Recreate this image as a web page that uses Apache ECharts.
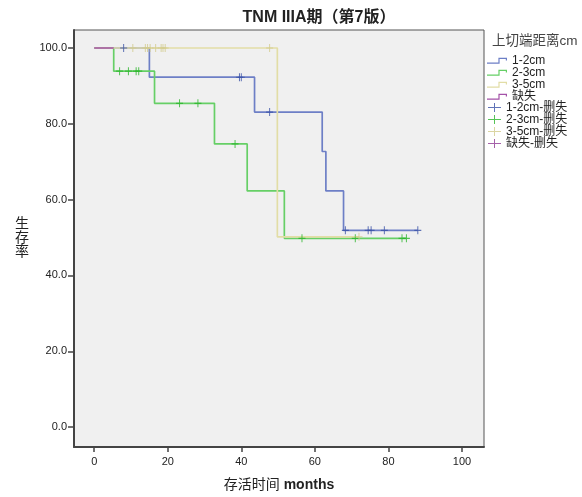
<!DOCTYPE html>
<html>
<head>
<meta charset="utf-8">
<script src="https://cdn.jsdelivr.net/npm/echarts@6/dist/echarts.min.js"></script>
<style>
html,body{margin:0;padding:0;background:#fff;}
#main{width:582px;height:497px;}
</style>
</head>
<body>
<div id="main"></div>
<script>
const xTicks = [0, 20, 40, 60, 80, 100];
const yTicks = [0, 20, 40, 60, 80, 100];

const groupNames = ['1-2cm', '2-3cm', '3-5cm', '缺失'];
const censorNames = ['1-2cm-删失', '2-3cm-删失', '3-5cm-删失', '缺失-删失'];

// survival step points [months, survival %]
const curve12 = [[0,100],[15.0,92.3],[43.6,83.1],[62.0,72.7],[63.0,62.3],[67.8,51.9],[88.0,51.9]];
const curve23 = [[0,100],[5.3,93.9],[16.4,85.4],[32.7,74.7],[41.6,62.3],[51.7,49.8],[84.9,49.8]];
const curve35 = [[0,100],[49.8,50.2],[72.0,50.2]];
const curveMiss = [[0,100],[5.3,100]];

// censored observations
const cens12 = [[8.0,100],[39.5,92.3],[40.0,92.3],[47.7,83.1],[68.3,51.9],[74.5,51.9],[75.3,51.9],[78.9,51.9],[88.0,51.9]];
const cens23 = [[6.9,93.9],[9.3,93.9],[11.4,93.9],[12.1,93.9],[23.2,85.4],[28.2,85.4],[38.3,74.7],[56.5,49.8],[71.0,49.8],[83.7,49.8],[84.9,49.8]];
const cens35 = [[10.5,100],[13.9,100],[14.5,100],[15.2,100],[16.7,100],[18.2,100],[18.7,100],[19.3,100],[47.7,100],[72.0,50.2]];
const censMiss = [];

const lineColors = ['#6d7fc6', '#66cf66', '#e2dda6', '#a452a8'];
const markColors = ['#3a51a6', '#2cb52c', '#d2ca8c', '#8e3a94'];

const FONT = '"Liberation Sans", Arial, "Noto Sans CJK SC", sans-serif';

const stepIcon = 'path://M0,4.8 H12.6 V6 H0 Z M11.4,0 H12.6 V6 H11.4 Z M11.4,0 H20 V1.2 H11.4 Z M18.8,0 H20 V2.6 H18.8 Z';
const plusIcon = 'path://M0,4 H13 V5 H0 Z M6,0 H7 V9 H6 Z';
const markPlus = 'path://M0,3 H7 V4 H0 Z M3,0 H4 V7 H3 Z';

const curves = [curve12, curve23, curve35, curveMiss];
const censors = [cens12, cens23, cens35, censMiss];

const series = [];
curves.forEach((d, i) => {
  series.push({
    name: groupNames[i],
    type: 'line',
    step: 'end',
    data: d,
    symbol: 'none',
    color: lineColors[i],
    lineStyle: { color: lineColors[i], width: 1.7 },
    z: 2 + i,
    animation: false
  });
});
censors.forEach((d, i) => {
  series.push({
    name: censorNames[i],
    type: 'scatter',
    data: d,
    symbol: markPlus,
    symbolSize: [7, 8],
    color: lineColors[i],
    itemStyle: { color: markColors[i] },
    z: 10,
    animation: false
  });
});

const chart = echarts.init(document.getElementById('main'), null, { renderer: 'canvas' });
chart.setOption({
  backgroundColor: '#ffffff',
  animation: false,
  textStyle: { fontFamily: FONT },
  grid: {
    left: 74, right: 98, top: 30, bottom: 48,
    show: true, backgroundColor: '#f0f0f0', borderColor: '#555', borderWidth: 1
  },
  xAxis: {
    type: 'value', min: -5.5, max: 106,
    name: '{a|存活时间 }{b|months}',
    nameLocation: 'middle', nameGap: 31,
    nameTextStyle: {
      rich: {
        a: { fontSize: 14, color: '#222', fontFamily: FONT },
        b: { fontSize: 14, color: '#222', fontWeight: 'bold', fontFamily: FONT }
      }
    },
    splitLine: { show: false },
    axisLine: { onZero: false, lineStyle: { color: '#444', width: 2 } },
    axisTick: { show: true, length: 5, customValues: xTicks, lineStyle: { color: '#444', width: 1.5 } },
    axisLabel: { customValues: xTicks, fontSize: 11, color: '#222', margin: 9, fontFamily: FONT }
  },
  yAxis: {
    type: 'value', min: -5.25, max: 104.75,
    splitLine: { show: false },
    axisLine: { onZero: false, lineStyle: { color: '#444', width: 2 } },
    axisTick: { show: true, length: 6, customValues: yTicks, lineStyle: { color: '#444', width: 1.5 } },
    axisLabel: { customValues: yTicks, fontSize: 11, color: '#222', margin: 7, fontFamily: FONT,
      formatter: v => v.toFixed(1) }
  },
  legend: [
    {
      orient: 'vertical', left: 487, top: 54.8, padding: 0, itemGap: 0,
      itemWidth: 20, itemHeight: 6,
      data: groupNames.map(n => ({ name: n, icon: stepIcon })),
      textStyle: { fontSize: 12, color: '#222', lineHeight: 11.7, fontFamily: FONT },
      itemStyle: { borderWidth: 0 }, selectedMode: false
    },
    {
      orient: 'vertical', left: 488, top: 101.6, padding: 0, itemGap: 0,
      itemWidth: 13, itemHeight: 9,
      data: censorNames.map(n => ({ name: n, icon: plusIcon })),
      textStyle: { fontSize: 12, color: '#222', lineHeight: 11.7, fontFamily: FONT },
      itemStyle: { borderWidth: 0 }, selectedMode: false
    }
  ],
  graphic: [
    { type: 'text', x: 319, y: 18, silent: true,
      style: { text: 'TNM IIIA期（第7版）', font: 'bold 16px ' + FONT, fill: '#222', align: 'center', verticalAlign: 'middle' } },
    { type: 'text', x: 492, y: 41, silent: true,
      style: { text: '上切端距离cm', font: '13.5px ' + FONT, fill: '#444', align: 'left', verticalAlign: 'middle' } },
    { type: 'text', x: 22, y: 238, silent: true,
      style: { text: '生\n存\n率', font: '14px ' + FONT, fill: '#222', align: 'center', verticalAlign: 'middle', lineHeight: 14 } }
  ],
  series: series
});
</script>
</body>
</html>
